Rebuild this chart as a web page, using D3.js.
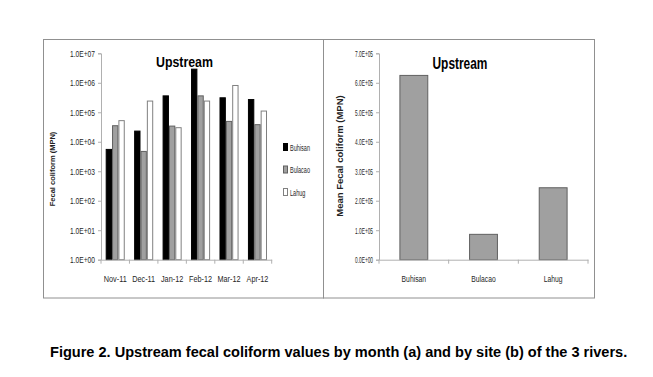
<!DOCTYPE html>
<html><head><meta charset="utf-8">
<script src="https://cdn.jsdelivr.net/npm/d3@7"></script>
<style>
body{margin:0;background:#fff;}
svg{display:block;}
</style></head>
<body>
<svg id="c" width="653" height="377"></svg>
<script>
// ---- data ----
const months = ["Nov-11","Dec-11","Jan-12","Feb-12","Mar-12","Apr-12"];
const sites = ["Buhisan","Bulacao","Lahug"];
const buhisan = [5500, 23000, 360000, 2900000, 310000, 270000];
const bulacao = [35000, 4700, 34000, 360000, 49000, 38000];
const lahug = [52000, 240000, 30000, 240000, 810000, 110000];
const siteMeans = [625000, 86000, 244000];
const logTicks = [1, 10, 100, 1000, 10000, 100000, 1000000, 10000000];
const linTicks = [0, 100000, 200000, 300000, 400000, 500000, 600000, 700000];
const siteColors = ["#000000", "#a0a0a0", "#ffffff"];
const siteStroke = ["#000000", "#606060", "#808080"];

const svg = d3.select("#c");
const FONT = "'Liberation Sans',Arial,sans-serif";
const tickColor = "#262626";
const axisColor = "#b0b0b0";

function sci(v){
  if (v === 0) return "0.0E+00";
  const e = Math.floor(Math.log10(v) + 1e-9);
  const m = v / Math.pow(10, e);
  return m.toFixed(1) + "E+" + String(e).padStart(2, "0");
}
function scaleFor(str, size, weight, target){
  const t = svg.append("text").attr("font-family",FONT).attr("font-size",size)
    .attr("font-weight",weight).text(str);
  const w = t.node().getComputedTextLength();
  t.remove();
  return target / w;
}
function squeeze(sel, s){
  sel.each(function(){
    const t = d3.select(this);
    const x = +t.attr("x") || 0;
    t.attr("x", x / s).attr("transform", `scale(${s},1)`);
  });
}

// panel borders
svg.append("rect").attr("x",43.5).attr("y",39.5).attr("width",280).attr("height",258.5)
  .attr("fill","none").attr("stroke","#909090").attr("stroke-width",1);
svg.append("rect").attr("x",323.5).attr("y",39.5).attr("width",271).attr("height",258.5)
  .attr("fill","none").attr("stroke","#909090").attr("stroke-width",1);

// ---- left chart ----
const L = {x0:101, x1:271.7, yTop:53.3, yBot:259.7};
const y1 = d3.scaleLog().domain([1, 1e7]).range([L.yBot, L.yTop]);
const x1 = d3.scaleBand().domain(months).range([L.x0, L.x1]).paddingInner(0.33).paddingOuter(0.165);
const xs = d3.scaleBand().domain(sites).range([0, x1.bandwidth()]);
const series = [buhisan, bulacao, lahug];

const gL = svg.append("g");
sites.forEach((s, si) => {
  gL.selectAll(null).data(months).enter().append("rect")
    .attr("x", m => x1(m) + xs(s) + 0.5)
    .attr("y", (m, i) => y1(series[si][i]))
    .attr("width", xs.bandwidth() - 1)
    .attr("height", (m, i) => L.yBot - y1(series[si][i]))
    .attr("fill", siteColors[si])
    .attr("stroke", siteStroke[si]).attr("stroke-width", 1);
});

const yAxL = gL.append("g").attr("transform", `translate(${L.x0},0)`)
  .call(d3.axisLeft(y1).tickValues(logTicks).tickFormat(sci).tickSize(3).tickPadding(3));
const xAxL = gL.append("g").attr("transform", `translate(0,${L.yBot})`)
  .call(d3.axisBottom(x1).tickSize(0).tickPadding(16));
const bounds1 = months.map((m,i)=> L.x0 + i*x1.step()).concat([L.x1]);
gL.selectAll(null).data(bounds1).enter().append("line")
  .attr("x1", d=>d).attr("x2", d=>d).attr("y1", L.yBot).attr("y2", L.yBot+4)
  .attr("stroke", axisColor);

gL.append("text").attr("transform", `translate(55,169) rotate(-90)`)
  .attr("text-anchor","middle").attr("font-family",FONT)
  .attr("font-weight","bold").attr("font-size",7.5).attr("fill","#222")
  .text("Fecal coliform (MPN)");
const tL = gL.append("text").attr("x",184.5).attr("y",66.7).attr("text-anchor","middle")
  .attr("font-family",FONT).attr("font-weight","bold").attr("font-size",15).attr("fill","#000")
  .text("Upstream");
squeeze(tL, scaleFor("Upstream",15,"bold",57));

// legend
const legY = [147.5, 170, 192.5];
const legS = scaleFor("Buhisan", 9.5, "normal", 20);
sites.forEach((s, si) => {
  gL.append("rect").attr("x",283.5).attr("y",legY[si]-4).attr("width",4).attr("height",7)
    .attr("fill",siteColors[si]).attr("stroke",siteStroke[si]).attr("stroke-width",1);
  const t = gL.append("text").attr("x",290).attr("y",legY[si]+3.5).attr("font-family",FONT)
    .attr("font-size",9.5).attr("fill",tickColor).text(s);
  squeeze(t, legS);
});

// ---- right chart ----
const R = {x0:379, x1:588, yTop:53.3, yBot:259.7};
const y2 = d3.scaleLinear().domain([0, 700000]).range([R.yBot, R.yTop]);
const x2 = d3.scaleBand().domain(sites).range([R.x0, R.x1]).paddingInner(0.6).paddingOuter(0.3);
const gR = svg.append("g");
gR.selectAll(null).data(sites).enter().append("rect")
  .attr("x", s => x2(s)).attr("y", (s,i)=> y2(siteMeans[i]))
  .attr("width", x2.bandwidth()).attr("height", (s,i)=> R.yBot - y2(siteMeans[i]))
  .attr("fill","#a0a0a0").attr("stroke","#606060").attr("stroke-width",1);

const yAxR = gR.append("g").attr("transform", `translate(${R.x0},0)`)
  .call(d3.axisLeft(y2).tickValues(linTicks).tickFormat(sci).tickSize(3).tickPadding(3));
const xAxR = gR.append("g").attr("transform", `translate(0,${R.yBot})`)
  .call(d3.axisBottom(x2).tickSize(0).tickPadding(16));
const bounds2 = [0,1,2,3].map(i => R.x0 + i*x2.step());
gR.selectAll(null).data(bounds2).enter().append("line")
  .attr("x1", d=>d).attr("x2", d=>d).attr("y1", R.yBot).attr("y2", R.yBot+4)
  .attr("stroke", axisColor);

gR.append("text").attr("transform", `translate(343,156) rotate(-90)`)
  .attr("text-anchor","middle").attr("font-family",FONT)
  .attr("font-weight","bold").attr("font-size",9.5).attr("fill","#222")
  .text("Mean Fecal coliform (MPN)");
const tR = gR.append("text").attr("x",460).attr("y",69.3).attr("text-anchor","middle")
  .attr("font-family",FONT).attr("font-weight","bold").attr("font-size",17).attr("fill","#000")
  .text("Upstream");
squeeze(tR, scaleFor("Upstream",17,"bold",55));

// axis styling
svg.selectAll(".domain").attr("stroke", axisColor);
svg.selectAll(".tick line").attr("stroke", axisColor);
svg.selectAll(".tick text").attr("font-family", FONT).attr("fill", tickColor);

yAxL.selectAll(".tick text").attr("font-size", 9);
squeeze(yAxL.selectAll(".tick text"), scaleFor("1.0E+07", 9, "normal", 25));
xAxL.selectAll(".tick text").attr("font-size", 9.5);
squeeze(xAxL.selectAll(".tick text"), scaleFor("Nov-11", 9.5, "normal", 23));
yAxR.selectAll(".tick text").attr("font-size", 9.5);
squeeze(yAxR.selectAll(".tick text"), scaleFor("7.0E+05", 9.5, "normal", 18));
xAxR.selectAll(".tick text").attr("font-size", 9.5);
squeeze(xAxR.selectAll(".tick text"), scaleFor("Buhisan", 9.5, "normal", 24.5));

// caption
const cap = svg.append("text").attr("x",50).attr("y",357)
  .attr("font-family",FONT).attr("font-weight","bold")
  .attr("font-size",14.5).attr("fill","#000")
  .text("Figure 2. Upstream fecal coliform values by month (a) and by site (b) of the 3 rivers.");
squeeze(cap, scaleFor(cap.text(), 14.5, "bold", 578));
</script>
</body></html>
